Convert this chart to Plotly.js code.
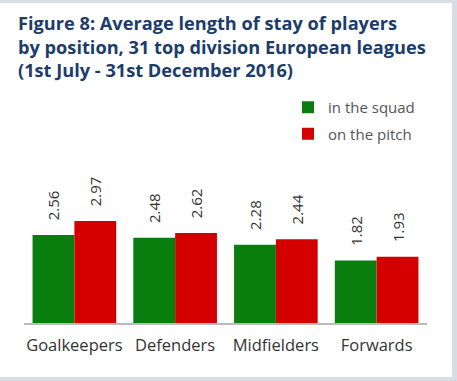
<!DOCTYPE html>
<html>
<head>
<meta charset="utf-8">
<script src="https://cdn.plot.ly/plotly-3.0.1.min.js"></script>
<style>
html,body{margin:0;padding:0;background:#d7dde5;width:457px;height:381px;overflow:hidden;}
#chart{position:absolute;left:0;top:3px;width:452px;height:374px;background:#fff;}
</style>
</head>
<body>
<div id="chart"></div>
<script>
const categories = ["Goalkeepers", "Defenders", "Midfielders", "Forwards"];
const inSquad = [2.56, 2.48, 2.28, 1.82];
const onPitch = [2.97, 2.62, 2.44, 1.93];
const seriesNames = ["in the squad", "on the pitch"];
const titleLines = ["Figure 8: Average length of stay of players",
                    "by position, 31 top division European leagues",
                    "(1st July - 31st December 2016)"];

const fam = "'Open Sans', Roboto, sans-serif";
const labelFont = {family: fam, size: 15, color: "#333"};

const traces = [
  {type: "bar", name: seriesNames[0], x: categories, y: inSquad, legendgroup: "a",
   marker: {color: "#0a7d0f"}, text: inSquad.map(v => "\u00a0\u00a0\u00a0" + v.toFixed(2)),
   textposition: "outside", textangle: -90, textfont: labelFont, cliponaxis: false,
   hoverinfo: "skip"},
  {type: "bar", name: seriesNames[1], x: categories, y: onPitch, legendgroup: "b",
   marker: {color: "#d40000"}, text: onPitch.map(v => "\u00a0\u00a0\u00a0" + v.toFixed(2)),
   textposition: "outside", textangle: -90, textfont: labelFont, cliponaxis: false,
   hoverinfo: "skip"}
];

const layout = {
  width: 452, height: 374,
  paper_bgcolor: "#fff", plot_bgcolor: "#fff",
  margin: {l: 24, r: 25, t: 100, b: 54},
  barmode: "group", bargap: 0.17, bargroupgap: 0,
  annotations: [{
    text: titleLines.join("<br>"), xref: "paper", yref: "paper",
    x: -8/403, xanchor: "left", y: 1 + (100-6)/220, yanchor: "top",
    align: "left", showarrow: false,
    font: {family: fam, size: 18.2, color: "#1d3c6b", weight: "bold"}
  }],
  xaxis: {
    showline: true, linecolor: "#bbbbbb", linewidth: 1.5, showgrid: false, zeroline: false,
    ticks: "outside", ticklen: 7, tickcolor: "rgba(0,0,0,0)",
    tickfont: {family: fam, size: 16.5, color: "#333"}
  },
  yaxis: {range: [0, 6.4], visible: false, showgrid: false, zeroline: false},
  showlegend: true,
  legend: {
    x: (288-24)/403, xanchor: "left", y: 1 + 12/220, yanchor: "top",
    font: {family: fam, size: 15, color: "#555"},
    tracegroupgap: 4, bgcolor: "rgba(0,0,0,0)"
  }
};

Plotly.newPlot("chart", traces, layout, {displayModeBar: false, staticPlot: true});
</script>
</body>
</html>
